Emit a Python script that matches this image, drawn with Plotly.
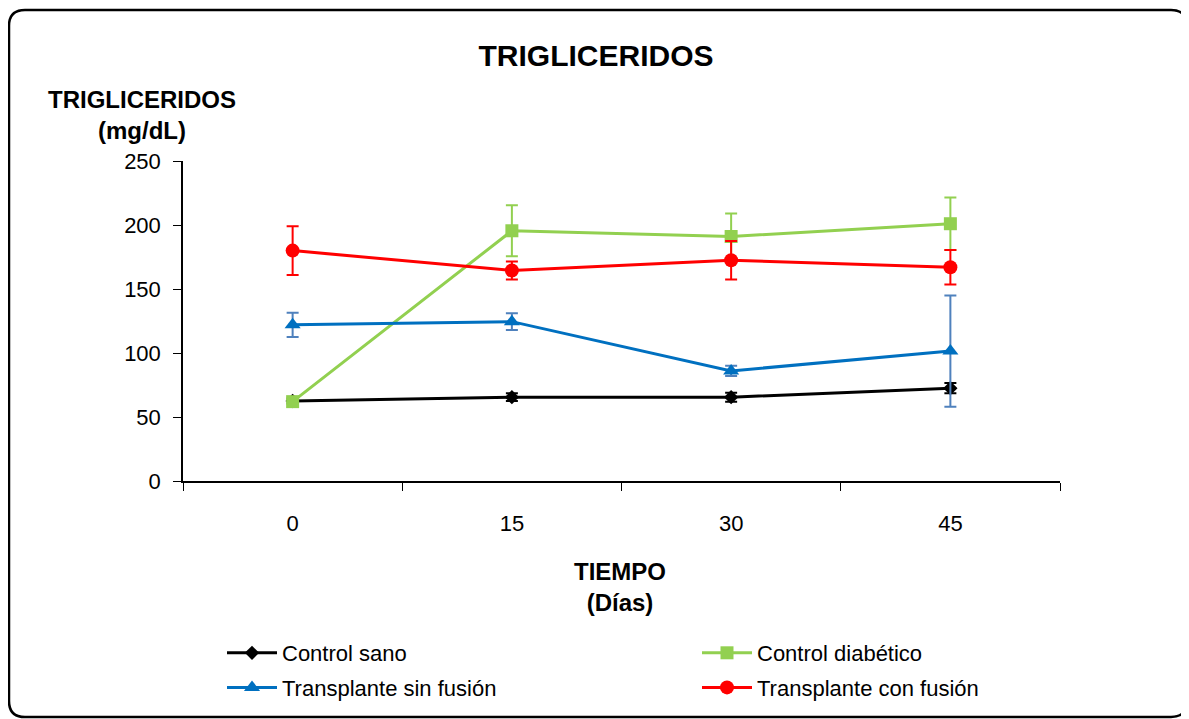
import plotly.graph_objects as go

dias = ["0", "15", "30", "45"]

control_sano = [62.5, 65.5, 65.5, 72.5]
control_sano_err = [2, 3, 3.5, 4]

control_diabetico = [62, 195.5, 191, 201]
control_diabetico_err = [0, 20, 18, 20.5]

transplante_sin = [122, 124.5, 86, 101.5]
transplante_sin_err = [9.5, 6.5, 4, 43.5]

transplante_con = [180, 164.5, 172.5, 167]
transplante_con_err = [19, 7, 15, 13.5]

series = [
    ("Control sano", control_sano, control_sano_err, "#000000", "#000000", "diamond", 11, "legend"),
    ("Control diabético", control_diabetico, control_diabetico_err, "#92D050", "#92D050", "square", 13, "legend2"),
    ("Transplante sin fusión", transplante_sin, transplante_sin_err, "#0070C0", "#4F81BD", "triangle-up", 14, "legend"),
    ("Transplante con fusión", transplante_con, transplante_con_err, "#FF0000", "#FF0000", "circle", 14, "legend2"),
]

fig = go.Figure()
for name, vals, errs, color, ecolor, sym, msize, leg in series:
    fig.add_trace(go.Scatter(
        x=dias, y=vals, name=name, mode="lines+markers", legend=leg, legendgroup=name,
        line=dict(color=color, width=3),
        marker=dict(color=color, symbol=sym, size=msize),
        error_y=dict(type="data", array=errs, visible=True, color=ecolor, thickness=2, width=6),
    ))

FONT = "Liberation Sans, Arial, sans-serif"

# the page body adds an 8px offset; target screen pixel positions are shifted by it
OFF = 8
W, H = 1189, 719
L, T = 183 - OFF, 161 - OFF
R, B = W - (1060 - OFF), H - (481 - OFF)
pw, ph = W - L - R, H - T - B

def px(x):
    return (x - OFF - L) / pw

def py(y):
    return (H - B - (y - OFF)) / ph

x0, x1, y0, y1 = px(9), px(1187), py(10), py(717)
rx, ry = 16 / pw, 16 / ph
frame = (f"M {x0+rx},{y0} L {x1-rx},{y0} Q {x1},{y0} {x1},{y0-ry} "
         f"L {x1},{y1+ry} Q {x1},{y1} {x1-rx},{y1} "
         f"L {x0+rx},{y1} Q {x0},{y1} {x0},{y1+ry} "
         f"L {x0},{y0-ry} Q {x0},{y0} {x0+rx},{y0} Z")

legend_common = dict(orientation="v", yanchor="top", font=dict(size=22),
                     bgcolor="rgba(0,0,0,0)", tracegroupgap=3, itemwidth=50)

fig.update_layout(
    width=W, height=H,
    margin=dict(l=L, r=R, t=T, b=B, autoexpand=False),
    paper_bgcolor="white", plot_bgcolor="white",
    font=dict(family=FONT, size=22, color="black"),
    title=dict(text="<b>TRIGLICERIDOS</b>", x=(596 - OFF) / W, xanchor="center",
               y=1 - (55 - OFF) / H, yanchor="middle", font=dict(size=30, family=FONT)),
    xaxis=dict(type="category", range=[-0.5, len(dias) - 0.5], showline=True,
               linecolor="black", linewidth=1.5,
               ticks="outside", tickson="boundaries", ticklen=8, tickcolor="black",
               showgrid=False, zeroline=False, tickfont=dict(size=22),
               ticklabelstandoff=22, automargin=False),
    yaxis=dict(range=[0, 250], dtick=50, showline=True, linecolor="black", linewidth=1.5,
               ticks="outside", ticklen=8, tickcolor="black", showgrid=False,
               zeroline=False, tickfont=dict(size=22), ticklabelstandoff=8, automargin=False),
    showlegend=True,
    legend=dict(x=px(222), xanchor="left", y=py(632), **legend_common),
    legend2=dict(x=px(697), xanchor="left", y=py(632), **legend_common),
    shapes=[dict(type="path", path=frame, xref="paper", yref="paper",
                 line=dict(color="black", width=2.5), fillcolor="rgba(0,0,0,0)", layer="below")],
    annotations=[
        dict(text="<b>TRIGLICERIDOS<br>(mg/dL)</b>", x=px(142), y=py(115), xref="paper", yref="paper",
             showarrow=False, xanchor="center", yanchor="middle", font=dict(size=24), align="center"),
        dict(text="<b>TIEMPO<br>(Días)</b>", x=px(620), y=py(587), xref="paper", yref="paper",
             showarrow=False, xanchor="center", yanchor="middle", font=dict(size=24), align="center"),
    ],
)

fig.write_html("out.html")
